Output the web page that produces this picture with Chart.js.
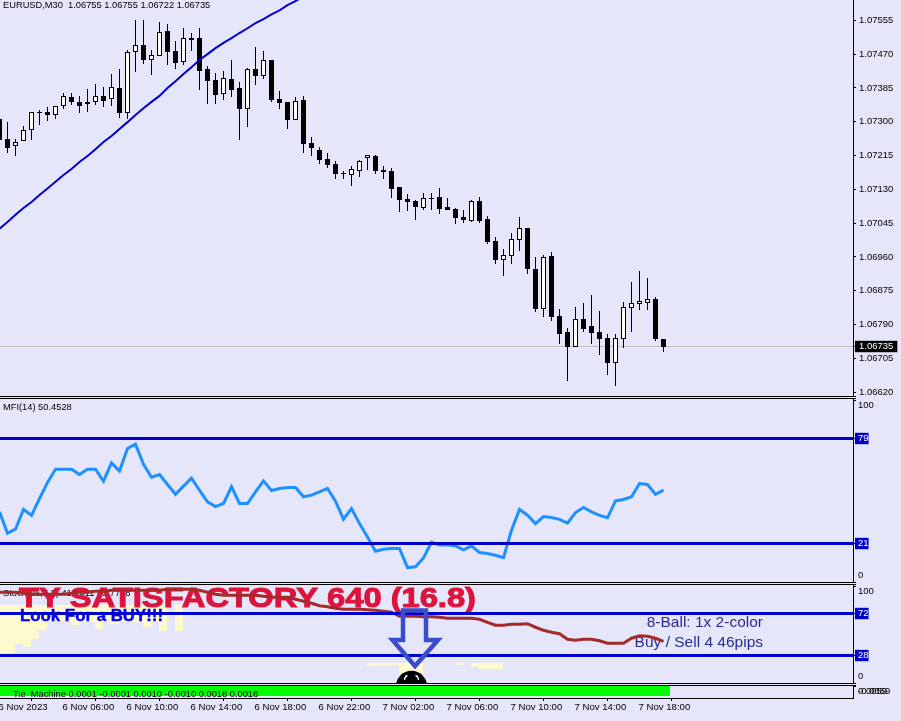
<!DOCTYPE html>
<html><head><meta charset="utf-8">
<style>
html,body{margin:0;padding:0;background:#E6E6FA;width:901px;height:721px;overflow:hidden}
canvas{position:absolute;left:0;display:block}
.rule{position:absolute;left:0;width:856px;height:1px;background:#000}
</style>
<script src="https://cdn.jsdelivr.net/npm/chart.js@4/dist/chart.umd.js"></script>
</head><body>
<canvas id="price" width="901" height="396" style="top:0"></canvas>
<div class="rule" style="top:396px"></div><div class="rule" style="top:398px"></div>
<canvas id="mfi" width="901" height="183" style="top:399px"></canvas>
<div class="rule" style="top:582px"></div><div class="rule" style="top:584px"></div>
<canvas id="stoch" width="901" height="98" style="top:585px"></canvas>
<div class="rule" style="top:683px"></div><div class="rule" style="top:685px"></div>
<canvas id="tie" width="901" height="35" style="top:686px"></canvas>
<script>
const highs=[1.07307,1.07299,1.07257,1.07289,1.07324,1.07329,1.07337,1.07339,1.07372,1.07372,
1.07365,1.07382,1.07395,1.07387,1.07420,1.07432,1.07480,1.07555,1.07555,1.07480,
1.07550,1.07545,1.07503,1.07535,1.07523,1.07535,1.07440,1.07422,1.07427,1.07455,
1.07400,1.07435,1.07488,1.07478,1.07455,1.07377,1.07350,1.07362,1.07365,1.07262,
1.07237,1.07221,1.07201,1.07176,1.07189,1.07204,1.07216,1.07216,1.07189,1.07184,
1.07136,1.07118,1.07103,1.07121,1.07121,1.07134,1.07108,1.07083,1.07078,1.07103,
1.07111,1.07063,1.07010,1.06980,1.07020,1.07061,1.07033,1.06960,1.06965,1.06973,
1.06830,1.06782,1.06835,1.06845,1.06865,1.06825,1.06767,1.06767,1.06847,1.06897,
1.06925,1.06908,1.06860,1.06755];
const opens=[1.07307,1.07257,1.07239,1.07252,1.07279,1.07324,1.07324,1.07317,1.07339,1.07362,
1.07350,1.07344,1.07350,1.07365,1.07357,1.07385,1.07322,1.07475,1.07493,1.07455,
1.07465,1.07528,1.07478,1.07450,1.07510,1.07510,1.07432,1.07405,1.07370,1.07407,
1.07385,1.07332,1.07432,1.07415,1.07455,1.07357,1.07350,1.07304,1.07355,1.07247,
1.07229,1.07206,1.07194,1.07171,1.07166,1.07176,1.07209,1.07214,1.07179,1.07176,
1.07136,1.07106,1.07101,1.07083,1.07108,1.07111,1.07086,1.07081,1.07061,1.07051,
1.07101,1.07056,1.07000,1.06953,1.06963,1.07003,1.07033,1.06930,1.06830,1.06963,
1.06812,1.06772,1.06734,1.06805,1.06787,1.06772,1.06757,1.06694,1.06754,1.06832,
1.06842,1.06845,1.06855,1.06755];
const closes=[1.07254,1.07234,1.07249,1.07279,1.07324,1.07322,1.07317,1.07339,1.07365,1.07350,
1.07339,1.07350,1.07365,1.07352,1.07387,1.07322,1.07475,1.07493,1.07455,1.07468,
1.07525,1.07475,1.07447,1.07510,1.07505,1.07427,1.07402,1.07367,1.07410,1.07380,
1.07332,1.07432,1.07415,1.07455,1.07355,1.07347,1.07304,1.07352,1.07244,1.07234,
1.07204,1.07191,1.07169,1.07169,1.07181,1.07201,1.07216,1.07176,1.07174,1.07131,
1.07103,1.07098,1.07086,1.07108,1.07106,1.07081,1.07078,1.07058,1.07053,1.07101,
1.07051,1.06998,1.06953,1.06965,1.07005,1.07033,1.06930,1.06830,1.06960,1.06810,
1.06767,1.06734,1.06805,1.06780,1.06769,1.06754,1.06694,1.06757,1.06835,1.06845,
1.06850,1.06855,1.06754,1.06735];
const lows=[1.07254,1.07221,1.07214,1.07252,1.07254,1.07292,1.07302,1.07307,1.07332,1.07342,
1.07322,1.07324,1.07342,1.07337,1.07339,1.07309,1.07307,1.07425,1.07445,1.07417,
1.07465,1.07442,1.07432,1.07442,1.07478,1.07380,1.07344,1.07344,1.07355,1.07362,
1.07254,1.07287,1.07392,1.07407,1.07350,1.07332,1.07282,1.07304,1.07221,1.07214,
1.07194,1.07184,1.07156,1.07156,1.07139,1.07161,1.07179,1.07169,1.07156,1.07108,
1.07073,1.07076,1.07053,1.07078,1.07078,1.07068,1.07078,1.07043,1.07046,1.07048,
1.07046,1.06993,1.06943,1.06913,1.06943,1.06975,1.06918,1.06822,1.06810,1.06800,
1.06742,1.06649,1.06734,1.06772,1.06742,1.06714,1.06664,1.06636,1.06732,1.06772,
1.06827,1.06827,1.06749,1.06722];
const movingAverage=[1.07031,1.07048,1.07066,1.07083,1.07098,1.07116,1.07132,1.07149,1.07166,1.07181,
1.07199,1.07214,1.07231,1.07249,1.07264,1.07282,1.07299,1.07317,1.07334,1.07350,
1.07365,1.07385,1.07402,1.07420,1.07437,1.07455,1.07470,1.07485,1.07498,1.07510,
1.07523,1.07535,1.07548,1.07558,1.07570,1.07580,1.07593,1.07603,1.07616];
const priceTicks=[1.07555,1.07470,1.07385,1.07300,1.07215,1.07130,1.07045,1.06960,1.06875,1.06790,1.06735,1.06705,1.06620];
const lastPrice=1.06735;
const mfiValues=[38.5,26.7,28.9,39.8,36.5,45.8,54.7,62.0,62.0,62.0,59.1,62.0,62.0,55.4,65.5,61.1,73.5,75.9,64.8,57.6,
59.1,53.6,48.2,52.7,57.1,50.4,44.0,41.4,43.1,52.3,43.1,43.1,49.5,55.6,50.3,51.4,51.9,51.9,46.8,47.7,
49.5,51.4,44.4,34.4,40.3,32.0,24.6,16.7,17.8,18.2,18.2,7.7,8.1,13.0,21.7,20.1,20.1,19.7,17.5,19.7,
16.0,15.5,14.5,13.2,28.3,39.8,36.6,32.0,35.9,35.4,34.3,32.2,38.1,40.9,38.5,36.5,35.2,44.5,45.3,46.8,
54.1,53.6,48.1,50.45];
const mfiLevels=[79,21];
const mfiTicks=[100,97.5,79,21,3.3];
const mfiTickLabels=['','100','79','21','0'];
const stochSignal=[94.3,94.3,94.3,93.3,92.2,92.2,92.2,92.2,92.2,93.3,94.3,94.3,95.3,95.3,96.4,96.4,96.4,96.4,96.4,96.4,
96.4,97.4,97.4,97.4,97.4,96.4,94.3,92.2,91.1,91.1,91.1,91.1,91.1,90.1,89.0,89.0,89.0,86.9,84.8,82.7,
80.1,79.1,77.5,76.5,76.5,76.5,75.9,75.4,74.4,73.3,69.1,69.1,69.1,68.6,68.6,68.1,67.0,67.0,67.0,67.0,
66.0,62.8,59.7,59.7,60.7,60.7,61.3,57.6,54.4,52.4,50.8,45.0,44.0,45.0,45.0,43.5,40.8,40.8,40.8,46.1,
48.7,48.2,46.1,42.9];
const creamTop=[81.2,81.2,81.2,81.2,81.2,81.2,81.2,81.2,81.2,81.2,81.2,81.2,81.2,81.2,81.2,81.2,81.2,81.2,81.2,81.2,81.2,null,81.2,
null,null,null,null,null,null,null,null,null,null,null,null,null,null,null,null,null,null,null,null,null,null,null,
20,20,20,20,20,20,20,null,null,null,null,20,null,20,20,20,20,
null,null,null,null,null,null,null,null,null,null,null,null,null,null,null,null,null,null,null,null,null];
const creamBottom=[30.4,30.4,39.8,36.6,45.0,54.4,63.9,63.9,63.9,59.7,62.8,62.8,55.5,62.8,60.7,62.8,62.8,62.8,57.6,62.8,53.4,null,53.4,
null,null,null,null,null,null,null,null,null,null,null,null,null,null,null,null,null,null,null,null,null,null,null,
17.1,18.1,18.1,18.1,9.1,9.1,9.1,null,null,null,null,17.8,null,16.0,14.3,13.6,13.6,
null,null,null,null,null,null,null,null,null,null,null,null,null,null,null,null,null,null,null,null,null];
const stochLevels=[72,28];
const stochTicks=[100,94.8,72,28,5.8];
const stochTickLabels=['','100','72','28','0'];
const tieBars=[.006,.006,.006,.006,.006,.006,.006,.006,.006,.006,.006,.006,.006,.006,.006,.006,.006,.006,.006,.006,
.006,.006,.006,.006,.006,.006,.006,.006,.006,.006,.006,.006,.006,.006,.006,.006,.006,.006,.006,.006,
.006,.006,.006,.006,.006,.006,.006,.006,.006,.006,.006,.006,.006,.006,.006,.006,.006,.006,.006,.006,
.006,.006,.006,.006,.006,.006,.006,.006,.006,.006,.006,.006,.006,.006,.006,.006,.006,.006,.006,.006,
.006,.006,.006,.006];
const tieTicks=[0.0059,0.00315,0.00314];
const tieTickLabels=['','0.0059','-0.0059'];
const timeTickIndex=[0,8,16,24,32,40,48,56,64,72,80];
const timeTickLabels=['6 Nov 2023','6 Nov 06:00','6 Nov 10:00','6 Nov 14:00','6 Nov 18:00','6 Nov 22:00','7 Nov 02:00','7 Nov 06:00','7 Nov 10:00','7 Nov 14:00','7 Nov 18:00'];
const priceTitle='EURUSD,M30  1.06755 1.06755 1.06722 1.06735';
const mfiTitle='MFI(14) 50.4528';
const stochTitle='Stoch(26,7,3) 41.1411 45.7778';
const tieTitle='Tie_Machine 0.0001 -0.0001 0.0010 -0.0010 0.0018 0.0018';
const bannerText='TY SATISFACTORY 640 (16.8)';
const adviceText='Look For a BUY!!!';
const ballLine1='8-Ball: 1x 2-color';
const ballLine2='Buy / Sell 4 46pips';

const FAMILY='"Liberation Sans"';
const SMALL='9.3px '+FAMILY;
const XMIN=0.0625, XMAX=106.6875;
const points=(ys,shift=0)=>ys.map((y,i)=>({x:i+shift,y}));
const levelLine=v=>({type:'line',data:[{x:XMIN,y:v},{x:XMAX,y:v}],borderColor:'#0000CD',borderWidth:3,pointRadius:0,order:1});
const snapBars={id:'snapBars',beforeDatasetsDraw(c){
  c.getSortedVisibleDatasetMetas().forEach(m=>{ if(m.type!=='bar')return;
    m.data.forEach(el=>{ el.y=Math.round(el.y); el.base=Math.round(el.base); if(el.y===el.base)el.base+=1; });
  });
}};
const noPad=s=>{s.paddingTop=0;s.paddingBottom=0;s.paddingLeft=0;s.paddingRight=0;};
function xScale(show){return{type:'linear',min:XMIN,max:XMAX,offset:false,display:show,
  afterBuildTicks(s){s.ticks=timeTickIndex.map(v=>({value:v}));},
  afterFit(s){noPad(s);if(show)s.height=23;},
  grid:{drawOnChartArea:false,drawTicks:true,tickLength:3,tickColor:'#000',lineWidth:1},
  border:{display:true,color:'#000',width:1},
  ticks:{align:'start',labelOffset:-1,padding:1,color:'#000',font:{family:'Liberation Sans',size:9.6},autoSkip:false,maxRotation:0,minRotation:0,
    callback:(v,i)=>timeTickLabels[i]}};}
function yScale(min,max,values,labels,special,noMark,tickPad,boxPad){return{type:'linear',position:'right',min,max,
  afterBuildTicks(s){s.ticks=values.map(v=>({value:v}));},
  afterFit(s){noPad(s);s.width=48;},
  grid:{drawOnChartArea:false,drawTicks:true,tickLength:3,lineWidth:1,
    tickColor:c=>(noMark&&noMark.includes(c.tick&&c.tick.value))?'rgba(0,0,0,0)':'#000'},
  border:{display:true,color:'#000',width:1},
  ticks:{crossAlign:'near',padding:tickPad,autoSkip:false,font:{family:'Liberation Sans',size:9.5},
    callback:(v,i)=>labels?labels[i]:v.toFixed(5),
    color:c=>special&&special(c.tick.value)?'#fff':'#000',
    showLabelBackdrop:c=>!!(special&&special(c.tick.value)),
    backdropColor:c=>special&&special(c.tick.value)?special(c.tick.value):'rgba(0,0,0,0)',
    backdropPadding:boxPad}};}
function base(datasets,y,showX,plugins){return{type:'bar',data:{datasets},plugins:[snapBars].concat(plugins||[]),
  options:{responsive:false,animation:false,devicePixelRatio:1,
    layout:{autoPadding:false,padding:0},
    elements:{bar:{inflateAmount:0,borderSkipped:false}},
    plugins:{legend:{display:false},tooltip:{enabled:false},title:{display:false}},
    scales:{x:xScale(showX),y}}};}
function smallText(ctx,text,x,y){ctx.save();ctx.font=SMALL;ctx.fillStyle='#000';ctx.textBaseline='middle';ctx.textAlign='left';ctx.fillText(text,x,y);ctx.restore();}
const levelBox={left:3,right:0,top:0,bottom:0};

// price pane
new Chart(document.getElementById('price'),base([
  {type:'line',data:[{x:XMIN,y:lastPrice},{x:XMAX,y:lastPrice}],borderColor:'#C0C0C0',borderWidth:1,pointRadius:0,order:4},
  {type:'bar',grouped:false,data:highs.map((h,i)=>({x:i,y:[lows[i],h]})),barThickness:1,backgroundColor:'#000',borderWidth:0,order:3},
  {type:'bar',grouped:false,data:opens.map((o,i)=>({x:i,y:[o,closes[i]]})),barThickness:5,
    backgroundColor:opens.map((o,i)=>closes[i]>=o?'#fff':'#000'),borderColor:'#000',borderWidth:1,order:2},
  {type:'line',data:points(movingAverage),borderColor:'#0000CD',borderWidth:2,pointRadius:0,tension:0,order:1}
],yScale(1.066106,1.07606,priceTicks,null,v=>v===lastPrice?'#000':null,null,3,{left:4,right:4,top:0,bottom:0}),false,[
  {id:'t1',afterDatasetsDraw(c){smallText(c.ctx,priceTitle,3,5.5);}}
]));

// MFI pane
new Chart(document.getElementById('mfi'),base([
  {type:'line',data:points(mfiValues),borderColor:'#1E90FF',borderWidth:3,pointRadius:0,tension:0,order:2},
  levelLine(mfiLevels[0]),levelLine(mfiLevels[1])
],yScale(-0.27,100.82,mfiTicks,mfiTickLabels,v=>mfiLevels.includes(v)?'#0000CD':null,[97.5,3.3],2,levelBox),false,[
  {id:'t2',afterDatasetsDraw(c){smallText(c.ctx,mfiTitle,3,8);}}
]));

// Stochastic pane
const stochOverlay={id:'stochOverlay',
  afterDatasetDraw(c,args){ if(args.index!==0)return;
    const ctx=c.ctx; ctx.save();
    smallText(ctx,stochTitle,3,8);
    ctx.fillStyle='#DC143C';ctx.strokeStyle='#DC143C';ctx.lineWidth=1;ctx.textAlign='left';ctx.textBaseline='alphabetic';
    ctx.font='bold 28px '+FAMILY;
    ctx.save();ctx.translate(19,22);ctx.scale(457/ctx.measureText(bannerText).width,1);ctx.fillText(bannerText,0,0);ctx.strokeText(bannerText,0,0);ctx.restore();
    ctx.fillStyle='#0000FF';ctx.strokeStyle='#0000FF';ctx.lineWidth=0.4;ctx.font='bold 16px '+FAMILY;
    ctx.save();ctx.translate(20,36);ctx.scale(143/ctx.measureText(adviceText).width,1);ctx.fillText(adviceText,0,0);ctx.strokeText(adviceText,0,0);ctx.restore();
    ctx.fillStyle='#2B2B8C';ctx.font='15.5px '+FAMILY;ctx.textAlign='right';
    ctx.fillText(ballLine1,763,42);ctx.fillText(ballLine2,763,62);
    ctx.restore();
  },
  afterDatasetsDraw(c){
    const ctx=c.ctx,X=c.scales.x.getPixelForValue(52),B=c.chartArea.bottom;
    ctx.save();
    ctx.beginPath();ctx.rect(0,0,853,B);ctx.clip();
    ctx.fillStyle='#000';ctx.beginPath();ctx.arc(X-4,B+3.5,15.7,0,Math.PI*2);ctx.fill();
    ctx.strokeStyle='#fff';ctx.lineWidth=1.3;
    ctx.beginPath();ctx.moveTo(X-11,B-3);ctx.quadraticCurveTo(X-10.5,B-7,X-8,B-7.5);ctx.moveTo(X+3,B-3);ctx.quadraticCurveTo(X+2.5,B-7,X,B-7.5);ctx.stroke();
    ctx.strokeStyle='#3B4CCA';ctx.lineWidth=4.5;ctx.lineJoin='miter';ctx.beginPath();
    ctx.moveTo(X-12.5,25.5);ctx.lineTo(X+10.5,25.5);ctx.lineTo(X+10.5,55);ctx.lineTo(X+22.5,55);ctx.lineTo(X-0.5,81);ctx.lineTo(X-23,55);ctx.lineTo(X-12.5,55);ctx.closePath();ctx.stroke();
    ctx.restore();
  }};
const creamData=[];creamTop.forEach((t,i)=>{if(t!==null)creamData.push({x:i+0.4375,y:[creamBottom[i],t]});});
new Chart(document.getElementById('stoch'),base([
  {type:'bar',grouped:false,data:creamData,barThickness:8,backgroundColor:'#FFFACD',borderWidth:0,order:3},
  {type:'line',data:points(stochSignal),borderColor:'#A52A2A',borderWidth:3,pointRadius:0,tension:0,order:2},
  levelLine(stochLevels[0]),levelLine(stochLevels[1])
],yScale(-0.81,101.86,stochTicks,stochTickLabels,v=>stochLevels.includes(v)?'#0000CD':null,[94.8,5.8],2,levelBox),false,[stochOverlay]));

// Tie machine pane
new Chart(document.getElementById('tie'),base([
  {type:'bar',grouped:false,base:0.0008,data:points(tieBars),barThickness:13,backgroundColor:'#00FF00',borderWidth:0,order:2}
],yScale(0,0.006,tieTicks,tieTickLabels,null,[0.00315,0.00314],2,levelBox),true,[
  {id:'t4',afterDatasetsDraw(c){smallText(c.ctx,tieTitle,13,8);}}
]));
</script>
</body></html>
